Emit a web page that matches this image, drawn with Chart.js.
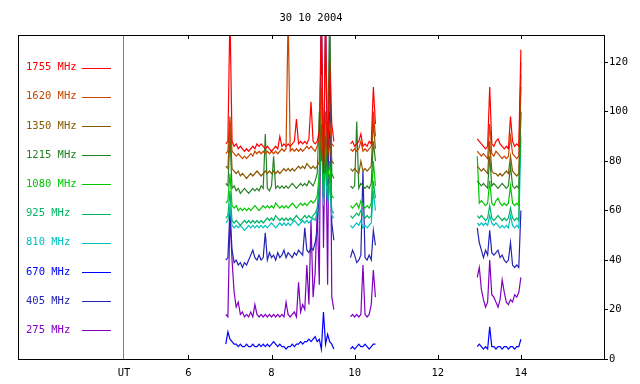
<!DOCTYPE html>
<html>
<head>
<meta charset="utf-8">
<script src="https://cdn.jsdelivr.net/npm/chart.js@4.4.1/dist/chart.umd.min.js"></script>
<style>
  html, body { margin: 0; padding: 0; background: #fff; }
</style>
</head>
<body>
<canvas id="myChart" width="640" height="384"></canvas>
<script>
const chartTitle = '30 10 2004';
const freqLabels = ['1755 MHz', '1620 MHz', '1350 MHz', '1215 MHz', '1080 MHz',
                    '925 MHz', '810 MHz', '670 MHz', '405 MHz', '275 MHz'];
const lineColors = ['#ff0000', '#c84600', '#885800', '#248224', '#00c800',
                    '#00b464', '#00c0c0', '#0000ff', '#2424b4', '#8000c0'];

const xTicks = [6, 8, 10, 12, 14];
const yTicks = [0, 20, 40, 60, 80, 100, 120];
const utAt = 4.45;

// UT hours; nulls break the trace between observing runs
const times = [
  6.90, 6.95, 7.00, 7.05, 7.10, 7.15, 7.20, 7.25, 7.30, 7.35, 7.40, 7.45, 7.50, 7.55, 7.60, 7.65, 7.70, 7.75,
  7.80, 7.85, 7.90, 7.95, 8.00, 8.05, 8.10, 8.15, 8.20, 8.25, 8.30, 8.35, 8.40, 8.45, 8.50, 8.55, 8.60, 8.65,
  8.70, 8.75, 8.80, 8.85, 8.90, 8.95, 9.00, 9.05, 9.10, 9.15, 9.20, 9.25, 9.30, 9.35, 9.40, 9.45, 9.50,
  9.70,
  9.90, 9.95, 10.00, 10.05, 10.10, 10.15, 10.20, 10.25, 10.30, 10.35, 10.40, 10.45, 10.50,
  11.70,
  12.95, 13.00, 13.05, 13.10, 13.15, 13.20, 13.25, 13.30, 13.35, 13.40, 13.45, 13.50, 13.55, 13.60, 13.65,
  13.70, 13.75, 13.80, 13.85, 13.90, 13.95, 14.00
];

const f1755 = [
  87,88,140,88,86,87,85,86,85,84, 85,84,85,86,85,87,86,87,86,85, 86,85,84,85,86,85,90,86,87,86,
  87,86,87,88,97,87,88,87,88,87, 89,104,88,87,88,92,140,75,140,80, 120,95,88,
  null,
  87,88,86,87,88,91,86,87,86,88,87,110,95,
  null,
  89,88,87,86,85,86,110,87,86,88, 89,87,86,85,86,85,98,88,86,87, 86,125
];
const f1620 = [
  83,84,98,84,83,82,83,82,81,82, 81,82,83,82,84,83,84,83,84,83, 84,83,84,83,84,83,84,85,84,85,
  140,84,85,84,85,84,85,84,85,86, 85,86,85,84,86,90,110,86,100,88, 95,87,86,
  null,
  85,84,85,84,85,88,84,85,84,85,86,100,90,
  null,
  84,83,82,83,82,81,95,83,82,84, 83,82,81,82,81,82,90,83,82,81, 82,115
];
const f1350 = [
  78,77,95,77,76,75,76,74,75,74, 73,74,75,74,75,76,75,74,75,76, 75,76,75,76,75,76,75,76,77,76,
  77,76,77,76,77,78,77,78,77,79, 78,77,78,77,78,80,95,78,90,82, 88,80,79,
  null,
  77,76,77,76,75,80,76,77,76,77,78,96,85,
  null,
  78,77,76,77,76,75,88,76,75,75, 74,75,74,75,76,75,82,76,75,74, 75,110
];
const f1215 = [
  71,70,90,69,70,68,69,67,68,69, 68,67,68,69,68,69,68,70,69,91, 69,68,70,82,69,70,69,70,69,70,
  69,70,71,70,69,70,71,70,71,70, 72,71,70,72,75,100,80,90,75,85, 140,75,73,
  null,
  70,69,70,96,69,71,70,69,70,69,71,88,80,
  null,
  72,71,70,71,70,69,82,70,71,70, 69,70,71,70,69,70,78,70,69,70, 69,100
];
const f1080 = [
  63,64,75,62,61,62,60,61,60,61, 60,61,60,61,62,61,60,61,62,61, 62,61,62,61,63,62,61,62,61,62,
  61,62,63,62,61,62,63,62,63,62, 63,64,63,64,66,75,110,70,95,72, 80,66,65,
  null,
  62,61,62,63,61,64,62,61,62,61,63,80,70,
  null,
  82,63,64,63,62,63,72,63,62,64, 65,63,62,63,62,63,70,63,62,63, 62,100
];
const f925 = [
  57,58,68,56,55,56,55,54,55,56, 55,56,55,56,55,56,55,56,55,56, 57,56,57,56,58,57,56,57,56,57,
  56,57,56,57,58,57,56,57,58,57, 58,57,58,59,61,70,90,65,85,64, 75,60,59,
  null,
  58,57,58,59,58,60,58,57,58,57,58,72,65,
  null,
  58,57,58,57,56,57,62,57,56,57, 58,57,56,57,56,57,61,57,56,57, 56,120
];
const f810 = [
  55,56,62,54,53,54,53,54,53,52, 53,54,53,54,53,54,53,54,53,54, 53,54,55,54,53,54,55,54,55,54,
  55,54,55,56,55,54,55,56,55,56, 55,56,57,56,60,72,115,62,80,63, 70,58,57,
  null,
  54,53,54,55,54,56,53,54,53,54,55,68,60,
  null,
  55,54,55,54,55,54,58,55,54,55, 54,53,54,53,54,53,58,54,53,54, 53,90
];
const f670 = [
  6,11,8,7,6,6,5,6,5,5, 6,5,5,6,5,5,6,5,6,5, 6,5,6,7,6,5,6,5,5,4,
  5,5,6,5,6,6,7,6,7,7, 8,7,8,9,7,8,4,19,6,10, 7,6,4,
  null,
  4,5,4,5,6,5,5,6,5,4,5,6,6,
  null,
  5,6,5,4,5,4,13,5,5,4, 5,5,4,5,5,4,5,5,4,5, 5,8
];
const f405 = [
  40,41,60,44,39,40,38,39,37,39, 38,40,42,44,41,40,42,40,41,51, 40,43,41,42,40,43,41,42,44,41,
  43,42,41,43,42,44,43,42,53,44, 43,45,44,47,52,70,140,65,140,70, 100,55,48,
  null,
  41,44,42,39,40,42,76,41,40,42,40,52,46,
  null,
  53,47,44,41,44,42,52,43,42,43, 44,41,42,40,39,40,47,38,37,38, 37,60
];
const f275 = [
  18,17,58,40,27,21,23,18,19,17, 18,17,19,17,22,18,17,18,17,18, 17,18,17,18,17,18,17,18,17,23,
  18,17,18,19,17,31,19,22,20,38, 22,56,25,35,60,30,140,45,100,30, 140,25,20,
  null,
  17,18,17,18,17,18,38,18,17,18,22,36,25,
  null,
  33,37,28,24,21,23,40,26,25,23, 21,24,32,27,23,22,24,23,26,25, 27,33
];

const seriesValues = [f1755, f1620, f1350, f1215, f1080, f925, f810, f670, f405, f275];

const fontFamily = "'DejaVu Sans Mono', monospace";
Chart.defaults.font.family = fontFamily;
Chart.defaults.font.size = 10.5;
Chart.defaults.color = '#000';

// frame, title, inward ticks and the in-plot legend
const framePlugin = {
  id: 'framePlugin',
  afterDraw(chart) {
    const { ctx, chartArea: a, scales } = chart;
    ctx.save();
    ctx.strokeStyle = '#000';
    ctx.lineWidth = 1;
    ctx.strokeRect(a.left + 0.5, a.top + 0.5, a.right - a.left, a.bottom - a.top);

    ctx.beginPath();
    xTicks.forEach(v => {
      const px = Math.round(scales.x.getPixelForValue(v)) + 0.5;
      ctx.moveTo(px, a.bottom);
      ctx.lineTo(px, a.bottom - 4);
      ctx.moveTo(px, a.top);
      ctx.lineTo(px, a.top + 4);
    });
    ctx.stroke();

    ctx.font = '10.5px ' + fontFamily;
    ctx.fillStyle = '#000';
    ctx.textAlign = 'center';
    ctx.textBaseline = 'middle';
    ctx.fillText(chartTitle, (a.left + a.right) / 2, 18);

    ctx.textAlign = 'left';
    chart.data.datasets.forEach((ds, i) => {
      const yy = 67.5 + i * 29.2;
      ctx.fillStyle = ds.borderColor;
      ctx.fillText(ds.label, 26, yy);
      ctx.strokeStyle = ds.borderColor;
      ctx.beginPath();
      ctx.moveTo(82, Math.round(yy) + 0.5);
      ctx.lineTo(111, Math.round(yy) + 0.5);
      ctx.stroke();
    });
    ctx.restore();
  }
};

const ctx = document.getElementById('myChart').getContext('2d');
new Chart(ctx, {
  type: 'line',
  data: {
    datasets: freqLabels.map((lab, i) => ({
      label: lab,
      data: times.map((t, j) => ({ x: t, y: seriesValues[i][j] })),
      borderColor: lineColors[i],
      backgroundColor: lineColors[i],
      borderWidth: 1.2,
      pointRadius: 0,
      tension: 0,
      spanGaps: false
    }))
  },
  options: {
    responsive: false,
    animation: false,
    events: [],
    layout: { padding: { left: 18, top: 35, right: 0, bottom: 0 } },
    plugins: {
      legend: { display: false },
      tooltip: { enabled: false },
      title: { display: false }
    },
    scales: {
      x: {
        type: 'linear',
        min: 1.9,
        max: 16,
        afterBuildTicks: s => { s.ticks = [utAt, ...xTicks].map(v => ({ value: v })); },
        afterFit: s => { s.height = 25; },
        ticks: {
          autoSkip: false,
          maxRotation: 0,
          padding: 8,
          callback: v => (v === utAt ? 'UT' : String(v))
        },
        grid: {
          drawTicks: false,
          color: c => (c.tick && c.tick.value === utAt ? '#808080' : 'rgba(0,0,0,0)')
        },
        border: { display: false }
      },
      y: {
        type: 'linear',
        position: 'right',
        min: 0,
        max: 131,
        afterBuildTicks: s => { s.ticks = yTicks.map(v => ({ value: v })); },
        afterFit: s => { s.width = 36; },
        ticks: { padding: 1 },
        grid: { drawOnChartArea: false, drawTicks: true, tickLength: 4, color: '#000' },
        border: { display: false }
      }
    }
  },
  plugins: [framePlugin]
});
</script>
</body>
</html>
